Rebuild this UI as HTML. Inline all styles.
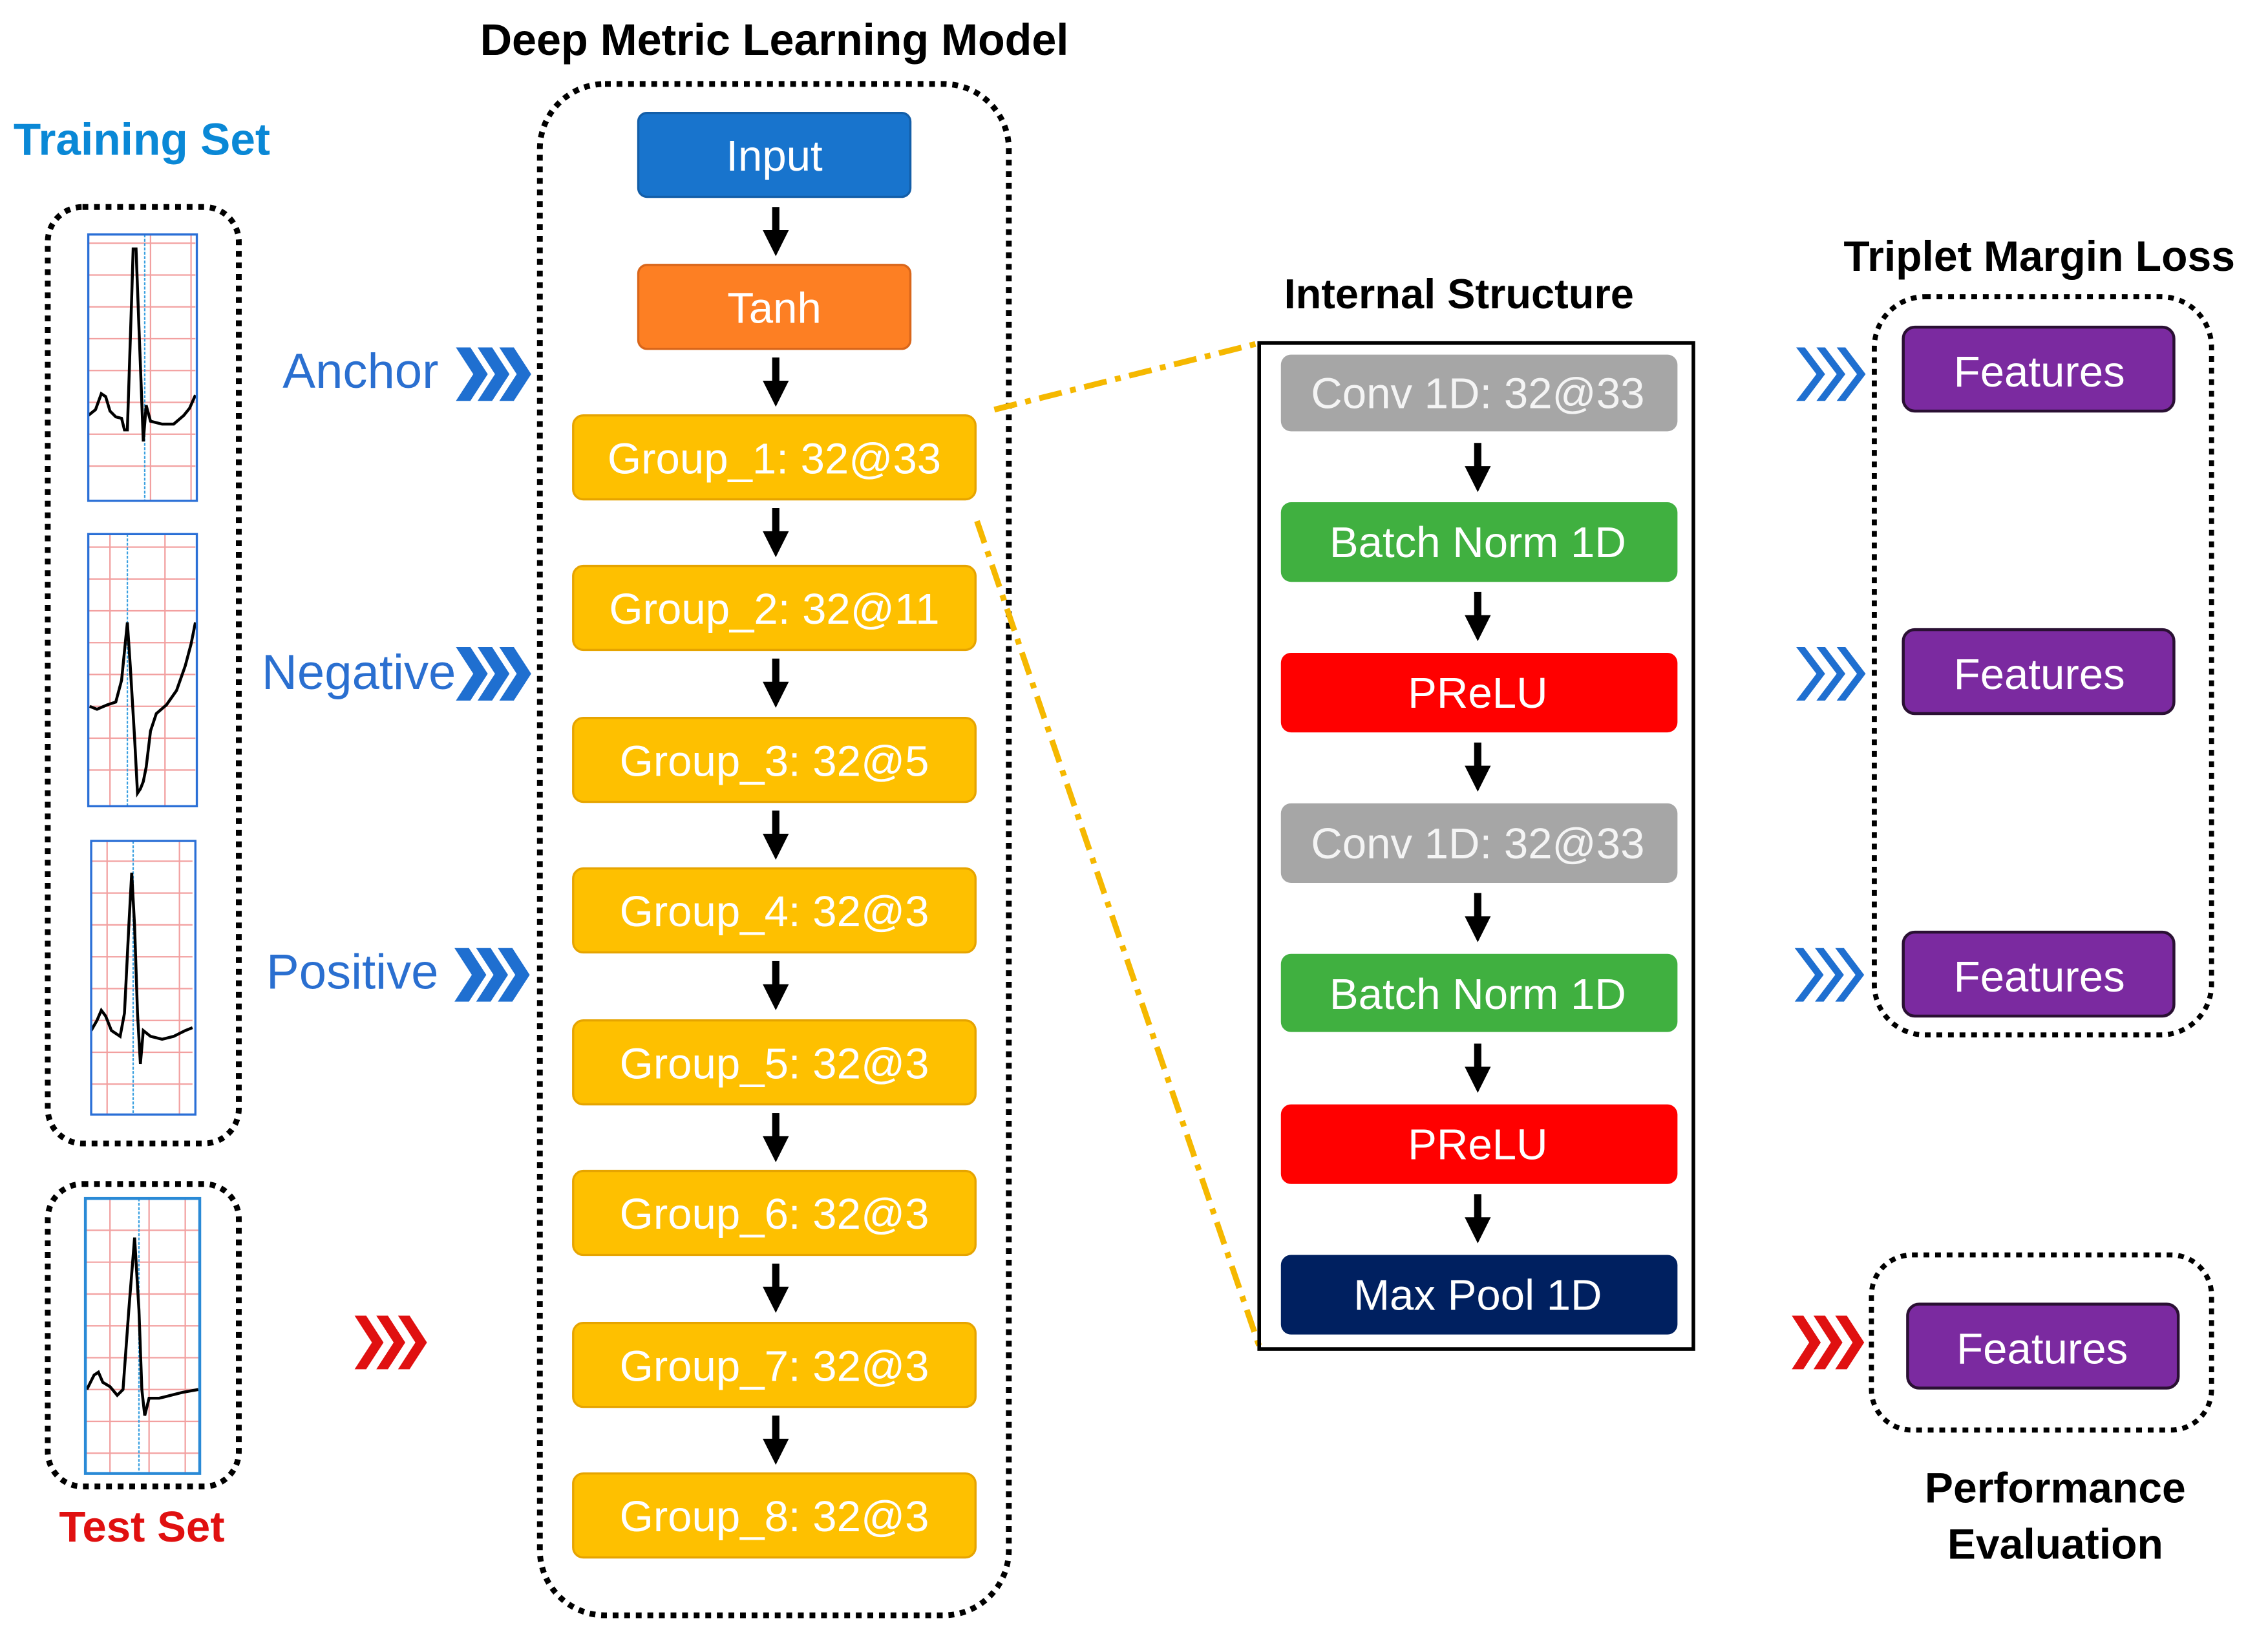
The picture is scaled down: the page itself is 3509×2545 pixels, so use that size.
<!DOCTYPE html>
<html><head><meta charset="utf-8"><style>
html,body{margin:0;padding:0;background:#fff;}
svg{display:block;}
text{font-family:"Liberation Sans",sans-serif;}
</style></head><body>
<svg width="3509" height="2545" viewBox="0 0 1567 1136.5" xmlns="http://www.w3.org/2000/svg">
<defs>
<g id="arr"><rect x="-2.5" y="0" width="5" height="20" fill="#000"/><polygon points="-9,16 9,16 0,34" fill="#000"/></g>
<g id="chevB"><polygon points="0,0 10,0 22,18.5 10,37 0,37 12,18.5" fill="#1f6fd0"/><polygon points="15,0 25,0 37,18.5 25,37 15,37 27,18.5" fill="#1f6fd0"/><polygon points="30,0 40,0 52,18.5 40,37 30,37 42,18.5" fill="#1f6fd0"/></g>
<g id="chevS"><polygon points="0,0 6,0 20,18.5 6,37 0,37 14,18.5" fill="#1f6fd0"/><polygon points="14,0 20,0 34,18.5 20,37 14,37 28,18.5" fill="#1f6fd0"/><polygon points="28,0 34,0 48,18.5 34,37 28,37 42,18.5" fill="#1f6fd0"/></g>
<g id="chevR"><polygon points="0,0 8,0 20,18.5 8,37 0,37 12,18.5" fill="#e01010"/><polygon points="15,0 23,0 35,18.5 23,37 15,37 27,18.5" fill="#e01010"/><polygon points="30,0 38,0 50,18.5 38,37 30,37 42,18.5" fill="#e01010"/></g>
</defs>

<!-- Left -->
<text x="98" y="107" font-size="31" font-weight="bold" fill="#0a88d6" text-anchor="middle">Training Set</text>
<rect x="33" y="143" width="132" height="647" rx="24" fill="none" stroke="#000" stroke-width="4" stroke-dasharray="4,4"/>
<rect x="33" y="818" width="132" height="209" rx="24" fill="none" stroke="#000" stroke-width="4" stroke-dasharray="4,4"/>
<text x="98" y="1065" font-size="30" font-weight="bold" fill="#e01010" text-anchor="middle">Test Set</text>

<!-- ECG 1 -->
<g stroke="#f2a0a0" stroke-width="1">
<line x1="61" y1="168" x2="135" y2="168"/><line x1="61" y1="190" x2="135" y2="190"/><line x1="61" y1="212" x2="135" y2="212"/><line x1="61" y1="234" x2="135" y2="234"/><line x1="61" y1="256" x2="135" y2="256"/><line x1="61" y1="278" x2="135" y2="278"/><line x1="61" y1="300" x2="135" y2="300"/><line x1="61" y1="322" x2="135" y2="322"/>
<line x1="104" y1="162" x2="104" y2="346"/><line x1="132" y1="162" x2="132" y2="346"/>
</g>
<line x1="100" y1="162" x2="100" y2="346" stroke="#3aa0e0" stroke-width="1" stroke-dasharray="2,1"/>
<polyline points="61,287 66,283 70,272 73,274 76,284 80,288 84,289 86,297 88,297 91,205 92,172 94,172 96,226 99,305 101,280 104,291 112,293 120,293 127,287 131,282 135,273" fill="none" stroke="#000" stroke-width="2"/>
<rect x="61" y="162" width="75" height="184" fill="none" stroke="#2a6fd6" stroke-width="1.5"/>

<!-- ECG 2 -->
<g stroke="#f2a0a0" stroke-width="1">
<line x1="61" y1="378" x2="135" y2="378"/><line x1="61" y1="400" x2="135" y2="400"/><line x1="61" y1="422" x2="135" y2="422"/><line x1="61" y1="444" x2="135" y2="444"/><line x1="61" y1="466" x2="135" y2="466"/><line x1="61" y1="488" x2="135" y2="488"/><line x1="61" y1="510" x2="135" y2="510"/><line x1="61" y1="532" x2="135" y2="532"/>
<line x1="76" y1="369" x2="76" y2="557"/><line x1="114" y1="369" x2="114" y2="557"/>
</g>
<line x1="88" y1="369" x2="88" y2="557" stroke="#3aa0e0" stroke-width="1" stroke-dasharray="2,1"/>
<polyline points="62,488 67,490 74,487 80,485 84,470 88,430 90,460 93,510 95,548 97,545 99,540 101,530 104,505 108,493 115,487 122,477 128,460 132,445 135,430" fill="none" stroke="#000" stroke-width="2"/>
<rect x="61" y="369" width="75" height="188" fill="none" stroke="#2a6fd6" stroke-width="1.5"/>

<!-- ECG 3 -->
<g stroke="#f2a0a0" stroke-width="1">
<line x1="63" y1="595" x2="133" y2="595"/><line x1="63" y1="617" x2="133" y2="617"/><line x1="63" y1="639" x2="133" y2="639"/><line x1="63" y1="661" x2="133" y2="661"/><line x1="63" y1="683" x2="133" y2="683"/><line x1="63" y1="705" x2="133" y2="705"/><line x1="63" y1="727" x2="133" y2="727"/><line x1="63" y1="749" x2="133" y2="749"/>
<line x1="74" y1="581" x2="74" y2="770"/><line x1="124" y1="581" x2="124" y2="770"/>
</g>
<line x1="92" y1="581" x2="92" y2="770" stroke="#3aa0e0" stroke-width="1" stroke-dasharray="2,1"/>
<polyline points="63,712 67,705 70,698 73,702 77,712 83,716 86,700 89,640 91,603 93,640 95,700 97,735 99,712 104,716 112,718 120,716 128,712 133,710" fill="none" stroke="#000" stroke-width="2"/>
<rect x="63" y="581" width="72" height="189" fill="none" stroke="#2a6fd6" stroke-width="1.5"/>

<!-- ECG 4 -->
<g stroke="#f2a0a0" stroke-width="1">
<line x1="59" y1="850" x2="137" y2="850"/><line x1="59" y1="872" x2="137" y2="872"/><line x1="59" y1="894" x2="137" y2="894"/><line x1="59" y1="916" x2="137" y2="916"/><line x1="59" y1="938" x2="137" y2="938"/><line x1="59" y1="960" x2="137" y2="960"/><line x1="59" y1="982" x2="137" y2="982"/><line x1="59" y1="1004" x2="137" y2="1004"/>
<line x1="76" y1="828" x2="76" y2="1018"/><line x1="103" y1="828" x2="103" y2="1018"/><line x1="128" y1="828" x2="128" y2="1018"/>
</g>
<line x1="96" y1="828" x2="96" y2="1018" stroke="#3aa0e0" stroke-width="1" stroke-dasharray="2,1"/>
<polyline points="60,960 65,950 68,948 71,955 76,958 81,964 85,960 89,905 93,855 96,905 98,960 100,978 103,966 110,966 118,964 126,962 137,960" fill="none" stroke="#000" stroke-width="2"/>
<rect x="59" y="828" width="79" height="190" fill="none" stroke="#2a8ad6" stroke-width="2"/>

<!-- labels + chevrons -->
<text x="303" y="268" font-size="34" fill="#2a6fd0" text-anchor="end">Anchor</text>
<use href="#chevB" x="315" y="240"/>
<text x="315" y="476" font-size="34" fill="#2a6fd0" text-anchor="end">Negative</text>
<use href="#chevB" x="315" y="447"/>
<text x="303" y="683" font-size="34" fill="#2a6fd0" text-anchor="end">Positive</text>
<use href="#chevB" x="314" y="655"/>
<use href="#chevR" x="245" y="909"/>

<!-- Main model -->
<text x="535" y="38" font-size="30.5" font-weight="bold" fill="#000" text-anchor="middle">Deep Metric Learning Model</text>
<rect x="373" y="58" width="324" height="1058" rx="45" fill="none" stroke="#000" stroke-width="4" stroke-dasharray="4,4"/>
<rect x="441" y="78" width="188" height="58" rx="6" fill="#1874cd" stroke="#135ea8" stroke-width="1.5"/>
<text x="535" y="118" font-size="30" fill="#fff" text-anchor="middle">Input</text>
<rect x="441" y="183" width="188" height="58" rx="6" fill="#fd7f23" stroke="#d9661a" stroke-width="1.5"/>
<text x="535" y="223" font-size="30" fill="#fff" text-anchor="middle">Tanh</text>
<use href="#arr" x="536" y="143"/>
<use href="#arr" x="536" y="247"/>

<g font-size="30" fill="#fff" text-anchor="middle">
<rect x="396" y="287" width="278" height="58" rx="7" fill="#fec000" stroke="#e6a400" stroke-width="1.5"/>
<text x="535" y="327">Group_1: 32@33</text>
<rect x="396" y="391" width="278" height="58" rx="7" fill="#fec000" stroke="#e6a400" stroke-width="1.5"/>
<text x="535" y="431">Group_2: 32@11</text>
<rect x="396" y="496" width="278" height="58" rx="7" fill="#fec000" stroke="#e6a400" stroke-width="1.5"/>
<text x="535" y="536">Group_3: 32@5</text>
<rect x="396" y="600" width="278" height="58" rx="7" fill="#fec000" stroke="#e6a400" stroke-width="1.5"/>
<text x="535" y="640">Group_4: 32@3</text>
<rect x="396" y="705" width="278" height="58" rx="7" fill="#fec000" stroke="#e6a400" stroke-width="1.5"/>
<text x="535" y="745">Group_5: 32@3</text>
<rect x="396" y="809" width="278" height="58" rx="7" fill="#fec000" stroke="#e6a400" stroke-width="1.5"/>
<text x="535" y="849">Group_6: 32@3</text>
<rect x="396" y="914" width="278" height="58" rx="7" fill="#fec000" stroke="#e6a400" stroke-width="1.5"/>
<text x="535" y="954">Group_7: 32@3</text>
<rect x="396" y="1018" width="278" height="58" rx="7" fill="#fec000" stroke="#e6a400" stroke-width="1.5"/>
<text x="535" y="1058">Group_8: 32@3</text>
</g>
<use href="#arr" x="536" y="351"/>
<use href="#arr" x="536" y="455"/>
<use href="#arr" x="536" y="560"/>
<use href="#arr" x="536" y="664"/>
<use href="#arr" x="536" y="769"/>
<use href="#arr" x="536" y="873"/>
<use href="#arr" x="536" y="978"/>

<!-- dash-dot connectors -->
<line x1="687" y1="283" x2="870" y2="237" stroke="#f5b800" stroke-width="4" stroke-dasharray="16,6,4,6"/>
<line x1="675" y1="360" x2="870" y2="930" stroke="#f5b800" stroke-width="4" stroke-dasharray="16,6,4,6"/>

<!-- Internal structure -->
<text x="1008" y="213" font-size="29" font-weight="bold" fill="#000" text-anchor="middle">Internal Structure</text>
<rect x="870" y="237" width="300" height="695" fill="none" stroke="#000" stroke-width="2.5"/>
<g font-size="30" fill="#fff" text-anchor="middle">
<rect x="885" y="245" width="274" height="53" rx="7" fill="#a6a6a6"/>
<text x="1021" y="282" fill="#f4f4f4">Conv 1D: 32@33</text>
<rect x="885" y="347" width="274" height="55" rx="7" fill="#40b040"/>
<text x="1021" y="385">Batch Norm 1D</text>
<rect x="885" y="451" width="274" height="55" rx="7" fill="#ff0000"/>
<text x="1021" y="489">PReLU</text>
<rect x="885" y="555" width="274" height="55" rx="7" fill="#a6a6a6"/>
<text x="1021" y="593" fill="#f4f4f4">Conv 1D: 32@33</text>
<rect x="885" y="659" width="274" height="54" rx="7" fill="#40b040"/>
<text x="1021" y="697">Batch Norm 1D</text>
<rect x="885" y="763" width="274" height="55" rx="7" fill="#ff0000"/>
<text x="1021" y="801">PReLU</text>
<rect x="885" y="867" width="274" height="55" rx="7" fill="#002060"/>
<text x="1021" y="905">Max Pool 1D</text>
</g>
<use href="#arr" x="1021" y="306"/>
<use href="#arr" x="1021" y="409"/>
<use href="#arr" x="1021" y="513"/>
<use href="#arr" x="1021" y="617"/>
<use href="#arr" x="1021" y="721"/>
<use href="#arr" x="1021" y="825"/>

<!-- Right -->
<text x="1409" y="187" font-size="29.5" font-weight="bold" fill="#000" text-anchor="middle">Triplet Margin Loss</text>
<rect x="1295" y="205" width="233" height="510" rx="35" fill="none" stroke="#000" stroke-width="3.5" stroke-dasharray="4,4"/>
<g font-size="30" fill="#fff" text-anchor="middle">
<rect x="1315" y="226" width="187" height="58" rx="8" fill="#7b2aa0" stroke="#2a1033" stroke-width="2"/>
<text x="1409" y="267">Features</text>
<rect x="1315" y="435" width="187" height="58" rx="8" fill="#7b2aa0" stroke="#2a1033" stroke-width="2"/>
<text x="1409" y="476">Features</text>
<rect x="1315" y="644" width="187" height="58" rx="8" fill="#7b2aa0" stroke="#2a1033" stroke-width="2"/>
<text x="1409" y="685">Features</text>
<rect x="1318" y="901" width="187" height="58" rx="8" fill="#7b2aa0" stroke="#2a1033" stroke-width="2"/>
<text x="1411" y="942">Features</text>
</g>
<use href="#chevS" x="1241" y="240"/>
<use href="#chevS" x="1241" y="447"/>
<use href="#chevS" x="1240" y="655"/>
<use href="#chevR" x="1238" y="909"/>
<rect x="1293" y="867" width="235" height="121" rx="28" fill="none" stroke="#000" stroke-width="3.5" stroke-dasharray="4,4"/>
<text x="1420" y="1038" font-size="29.5" font-weight="bold" fill="#000" text-anchor="middle">Performance</text>
<text x="1420" y="1077" font-size="29.5" font-weight="bold" fill="#000" text-anchor="middle">Evaluation</text>
</svg>
</body></html>
